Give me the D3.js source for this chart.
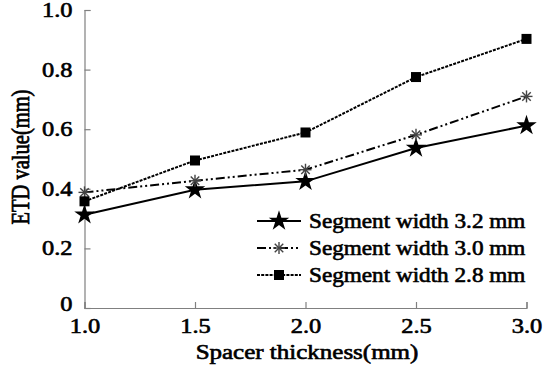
<!DOCTYPE html>
<html>
<head>
<meta charset="utf-8">
<script src="https://cdn.jsdelivr.net/npm/d3@7"></script>
<style>
  html, body { margin: 0; padding: 0; background: #fff; }
  svg text { font-family: "Liberation Serif", "Times New Roman", serif; fill: #000;
             stroke: #000; stroke-width: 0.6px; font-size: 20px; }
</style>
</head>
<body>
<svg id="chart" width="543" height="371"></svg>
<script>
// Spacer thickness (mm) on the x axis
const thickness = [1.0, 1.5, 2.0, 2.5, 3.0];
// ETD value (mm) for each segment width
const etd32 = [0.313, 0.397, 0.425, 0.537, 0.612];
const etd30 = [0.388, 0.427, 0.464, 0.581, 0.710];
const etd28 = [0.358, 0.495, 0.589, 0.775, 0.903];
const seriesNames = ["Segment width 3.2 mm", "Segment width 3.0 mm", "Segment width 2.8 mm"];
const xTicks = [1.0, 1.5, 2.0, 2.5, 3.0];
const yTicks = [0, 0.2, 0.4, 0.6, 0.8, 1.0];

const svg = d3.select("#chart");
const x = d3.scaleLinear().domain([1.0, 3.0]).range([84.5, 526.5]);
const y = d3.scaleLinear().domain([0, 1.0]).range([308, 10]);

const axisColor = "#808080";

// place a text element at (px,py) and widen it horizontally about that anchor
function widen(sel, px, py, k) {
  sel.attr("x", 0).attr("y", 0)
     .attr("transform", `translate(${px},${py}) scale(${k},1)`);
}

// x axis with inward ticks
const gx = svg.append("g").attr("transform", `translate(0,${y(0)})`)
  .call(d3.axisBottom(x).tickValues(xTicks).tickSizeInner(-6).tickSizeOuter(-6)
        .tickFormat(d3.format(".1f")));
gx.select(".domain").attr("stroke", axisColor).attr("stroke-width", 1.2);
gx.selectAll(".tick line").attr("stroke", axisColor).attr("stroke-width", 1.2);
gx.selectAll(".tick text").attr("font-size", null).attr("font-family", null)
  .each(function () { widen(d3.select(this), 0, 11, 1.22); }).attr("dy", "0.71em");

// y axis with inward ticks
const gy = svg.append("g").attr("transform", `translate(${x(1.0)},0)`)
  .call(d3.axisLeft(y).tickValues(yTicks).tickSizeInner(-6).tickSizeOuter(-6)
        .tickFormat(d => d === 0 ? "0" : d3.format(".1f")(d)));
gy.select(".domain").attr("stroke", axisColor).attr("stroke-width", 1.2);
gy.selectAll(".tick line").attr("stroke", axisColor).attr("stroke-width", 1.2);
gy.selectAll(".tick text").attr("font-size", null).attr("font-family", null)
  .each(function () { widen(d3.select(this), -12, 0, 1.22); });
gy.selectAll(".tick").filter(d => d === 0).select("text").attr("dy", "0.1em");

// axis titles
svg.append("text").attr("text-anchor", "middle")
  .call(widen, 307, 359, 1.25).text("Spacer thickness(mm)");
svg.append("text").attr("text-anchor", "middle")
  .attr("transform", "translate(29,157) rotate(-90) scale(1,1.22)")
  .style("font-size", "20.5px").text("ETD value(mm)");

const series = [
  { name: seriesNames[0], values: etd32, dash: null, marker: "star" },
  { name: seriesNames[1], values: etd30, dash: "9,3,2,3,2,3", marker: "asterisk" },
  { name: seriesNames[2], values: etd28, dash: "3,1.2", marker: "square" }
];

const line = d3.line().x((d, i) => x(thickness[i])).y(d => y(d));

function drawMarker(g, type, cx, cy) {
  if (type === "star") {
    g.append("path").attr("d", d3.symbol().type(d3.symbolStar).size(130)())
      .attr("transform", `translate(${cx},${cy})`).attr("fill", "#000");
  } else if (type === "square") {
    g.append("path").attr("d", d3.symbol().type(d3.symbolSquare).size(100)())
      .attr("transform", `translate(${cx},${cy})`).attr("fill", "#000");
  } else {
    const r = 6;
    const a = g.append("g").attr("transform", `translate(${cx},${cy})`)
      .attr("stroke", "#444").attr("stroke-width", 1.4);
    for (let k = 0; k < 4; k++) {
      const ang = k * Math.PI / 4;
      a.append("line").attr("x1", -r * Math.cos(ang)).attr("y1", -r * Math.sin(ang))
        .attr("x2", r * Math.cos(ang)).attr("y2", r * Math.sin(ang));
    }
  }
}

series.forEach(s => {
  svg.append("path").datum(s.values).attr("d", line)
    .attr("fill", "none").attr("stroke", "#000").attr("stroke-width", 2)
    .attr("stroke-dasharray", s.dash);
  const g = svg.append("g");
  s.values.forEach((v, i) => drawMarker(g, s.marker, x(thickness[i]), y(v)));
});

// legend
const legendY = [221, 248, 275];
series.forEach((s, i) => {
  const ly = legendY[i];
  svg.append("line").attr("x1", 257).attr("x2", 301).attr("y1", ly).attr("y2", ly)
    .attr("stroke", "#000").attr("stroke-width", 2).attr("stroke-dasharray", s.dash);
  const g = svg.append("g");
  drawMarker(g, s.marker, 279, ly);
  svg.append("text").attr("dy", "0.35em").call(widen, 309, ly, 1.16).text(s.name);
});
</script>
</body>
</html>
